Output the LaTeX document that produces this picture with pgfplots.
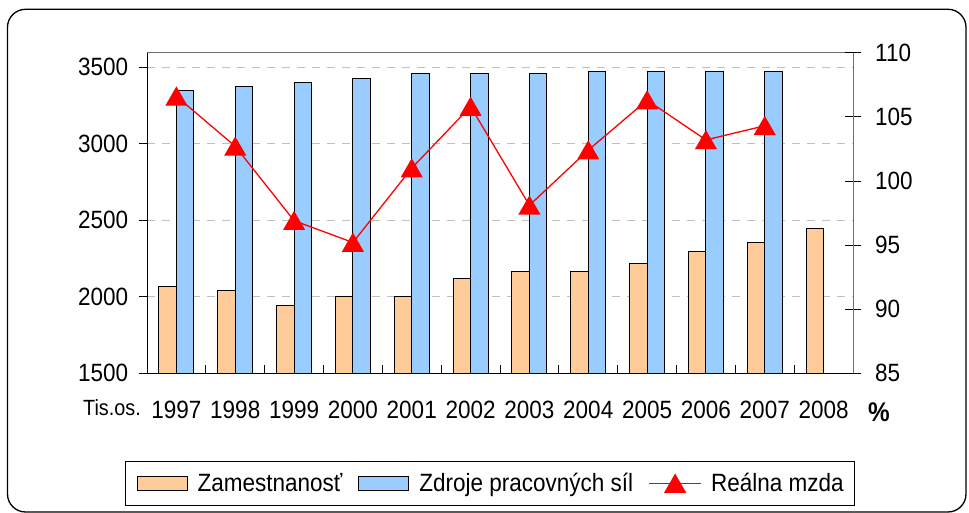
\documentclass[border=0pt]{standalone}
\usepackage{fontspec}
\setmainfont{Liberation Sans}[FakeStretch=0.9]
\usepackage{pgfplots}
\pgfplotsset{compat=1.18}
\definecolor{orfill}{RGB}{255,204,153}
\definecolor{blfill}{RGB}{153,204,255}
\definecolor{gridc}{RGB}{192,192,192}
\definecolor{axgray}{RGB}{110,110,110}
\pgfplotsset{
  redlegend/.style={legend image code/.code={%
    \fill[red, draw=none] (0pt,-0.8pt) rectangle (52pt,0.8pt);
    \draw[##1, draw=none] plot coordinates {(26pt,0pt)};}}
}
\begin{document}
\begin{tikzpicture}[x=1pt,y=1pt]
\useasboundingbox (0,0) rectangle (969,513);
\draw[line width=1.3pt, rounded corners=18pt] (7.5,1) rectangle (966,503.7);
\begin{axis}[
  at={(147pt,139.7pt)}, anchor=south west, scale only axis,
  width=706pt, height=320.6pt,
  xmin=-0.5, xmax=11.5, ymin=1500, ymax=3595,
  axis x line*=bottom, axis y line*=left,
  axis line style={black, line width=1pt, -},
  ybar=0pt, bar width=17.5pt,
  xtick={0,1,2,3,4,5,6,7,8,9,10,11},
  xticklabels={1997,1998,1999,2000,2001,2002,2003,2004,2005,2006,2007,2008},
  major x tick style={draw=none},
  major y tick style={black, line width=0.8pt},
  tick align=outside, major tick length=8pt,
  ytick={1500,2000,2500,3000,3500},
  ymajorgrids,
  grid style={gridc, dash pattern=on 8pt off 7pt, line width=0.8pt},
  /pgf/number format/1000 sep={},
  /pgf/number format/assume math mode=true,
  tick label style={font=\fontsize{25}{30}\selectfont},
  yticklabel style={anchor=east, inner sep=0pt, xshift=-10.7pt},
  xticklabel style={anchor=north, inner sep=0pt, yshift=-19.4pt},
]
\addplot[fill=orfill, draw=black, line width=1pt] coordinates {
  (0,2065) (1,2039) (2,1946) (3,2000) (4,2000) (5,2121)
  (6,2163) (7,2163) (8,2215) (9,2298) (10,2352) (11,2443)};
\addplot[fill=blfill, draw=black, line width=1pt] coordinates {
  (0,3348) (1,3376) (2,3402) (3,3428) (4,3457) (5,3457)
  (6,3457) (7,3470) (8,3470) (9,3470) (10,3470)};
\draw[axgray, line width=1pt] (rel axis cs:0,1) -- (rel axis cs:1,1);
\foreach \xx in {-0.5,0.5,...,11.5} {
  \edef\tmp{\noexpand\draw[black, line width=0.8pt] (axis cs:\xx,1500) ++(0pt,-8pt) -- ++(0pt,16pt);}\tmp
}
\end{axis}
\begin{axis}[
  at={(147pt,139.7pt)}, anchor=south west, scale only axis,
  width=706pt, height=320.6pt,
  xmin=-0.5, xmax=11.5, ymin=85, ymax=110,
  axis y line*=right, axis x line=none,
  axis line style={axgray, line width=1pt, -},
  ytick={85,90,95,100,105,110},
  tick align=center, major tick length=16pt,
  major y tick style={black, line width=0.8pt},
  /pgf/number format/assume math mode=true,
  tick label style={font=\fontsize{25}{30}\selectfont},
  yticklabel style={anchor=west, inner sep=0pt, xshift=14pt},
  legend columns=3,
  legend style={at={(axis description cs:0.486,-0.3437)}, anchor=center,
    draw=black, line width=0.8pt, inner xsep=11pt, inner ysep=12pt,
    font=\fontsize{25}{30}\selectfont,
    nodes={inner sep=0pt},
    /tikz/every odd column/.append style={column sep=10pt},
    /tikz/every even column/.append style={column sep=16pt}},
]
\addlegendimage{legend image code/.code={\draw[fill=orfill,draw=black,line width=1pt] (0pt,-7pt) rectangle (50pt,7pt);}}
\addlegendentry{Zamestnanosť}
\addlegendimage{legend image code/.code={\draw[fill=blfill,draw=black,line width=1pt] (0pt,-7pt) rectangle (50pt,7pt);}}
\addlegendentry{Zdroje pracovných síl}
\addplot[red, line width=1.3pt, mark=triangle*, mark size=11.5pt,
  mark options={fill=red, draw=red, yshift=-2.9pt}, redlegend]
  coordinates {
  (0,106.6) (1,102.7) (2,96.9) (3,95.2) (4,101.0) (5,105.8)
  (6,98.1) (7,102.4) (8,106.3) (9,103.2) (10,104.3)};
\addlegendentry{Reálna mzda}
\end{axis}
\node[anchor=north west, inner sep=0pt, font=\fontsize{22}{26}\selectfont] at (83,114) {Tis.os.};
\node[anchor=north west, inner sep=0pt, font=\fontsize{27}{32}\selectfont\bfseries] at (868,110) {\%};
\end{tikzpicture}
\end{document}
